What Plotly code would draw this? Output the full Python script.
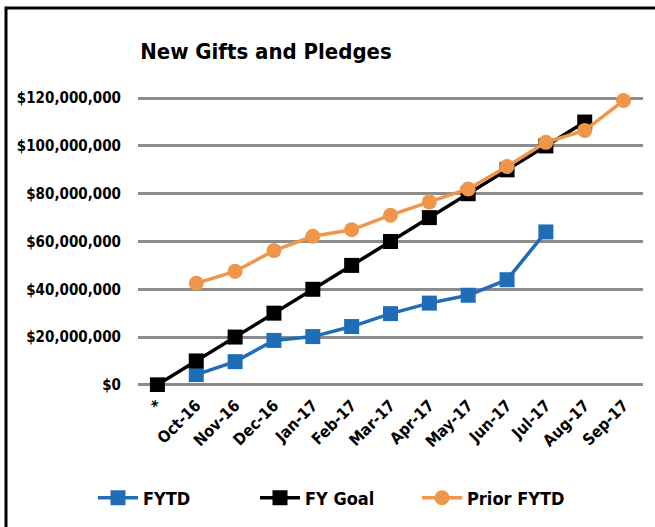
import plotly.graph_objects as go

categories = ["*", "Oct-16", "Nov-16", "Dec-16", "Jan-17", "Feb-17", "Mar-17",
              "Apr-17", "May-17", "Jun-17", "Jul-17", "Aug-17", "Sep-17"]
fytd = [None, 4.3e6, 9.7e6, 18.6e6, 20.2e6, 24.4e6, 29.8e6, 34.2e6, 37.5e6, 44.0e6, 64.0e6, None, None]
fy_goal = [0, 10e6, 20e6, 30e6, 40e6, 50e6, 60e6, 70e6, 80e6, 90e6, 100e6, 110e6, None]
prior_fytd = [None, 42.5e6, 47.5e6, 56.2e6, 62.2e6, 64.9e6, 71.0e6, 76.6e6, 82.0e6, 91.4e6, 101.5e6, 106.5e6, 119.0e6]
y_ticks = [0, 20e6, 40e6, 60e6, 80e6, 100e6, 120e6]
y_tick_labels = ["$0", "$20,000,000", "$40,000,000", "$60,000,000", "$80,000,000",
                 "$100,000,000", "$120,000,000"]

FONT = "DejaVu Sans Condensed"

fig = go.Figure()
fig.add_trace(go.Scatter(x=categories, y=fytd, name="FYTD", mode="lines+markers",
                         line=dict(color="#1F6DB6", width=3.5),
                         marker=dict(symbol="square", size=15, color="#1F6DB6")))
fig.add_trace(go.Scatter(x=categories, y=fy_goal, name="FY Goal", mode="lines+markers",
                         line=dict(color="#000000", width=3.5),
                         marker=dict(symbol="square", size=15, color="#000000")))
fig.add_trace(go.Scatter(x=categories, y=prior_fytd, name="Prior FYTD", mode="lines+markers",
                         line=dict(color="#F0964B", width=3.5),
                         marker=dict(symbol="circle", size=15, color="#F0964B")))

L, R, T, B = 138, 12, 91, 135
W, H = 655, 527
pw, ph = W - L - R, H - T - B

def px_x(p):
    return (p - L) / pw

def px_y(p):
    return (H - B - p) / ph

fig.update_layout(
    width=W, height=H,
    margin=dict(l=L, r=R, t=T, b=B, autoexpand=False),
    paper_bgcolor="white", plot_bgcolor="white",
    font=dict(family=FONT, color="black"),
    title=dict(text="New Gifts and Pledges", x=266 / W, xanchor="center",
               y=1 - 51 / H, yanchor="middle",
               font=dict(size=22, family=FONT, weight="bold")),
    showlegend=True,
    legend=dict(orientation="h", x=px_x(93), xanchor="left", y=px_y(498), yanchor="middle",
                font=dict(size=18, family=FONT, weight="bold"), itemwidth=40, entrywidth=107,
                traceorder="normal"),
    xaxis=dict(type="category", range=[-0.5, 12.5], tickangle=-45, showgrid=False,
               showline=False, ticks="", automargin=False,
               tickfont=dict(size=16, family=FONT, weight="bold")),
    yaxis=dict(range=[-3e6, 123e6], tickvals=y_ticks, ticktext=y_tick_labels,
               showgrid=True, gridcolor="#8C8C8C", gridwidth=2.5, zeroline=False,
               showline=False, ticks="", ticklabelstandoff=16, automargin=False,
               tickfont=dict(size=15, family=FONT, weight="bold")),
    shapes=[dict(type="rect", xref="paper", yref="paper",
                 x0=px_x(6), x1=px_x(700), y0=px_y(560), y1=px_y(8),
                 line=dict(color="black", width=3), fillcolor="rgba(0,0,0,0)", layer="above")],
)
fig.write_html("out.html", config={"displayModeBar": False},
               post_script="document.body.style.margin='0px';")
